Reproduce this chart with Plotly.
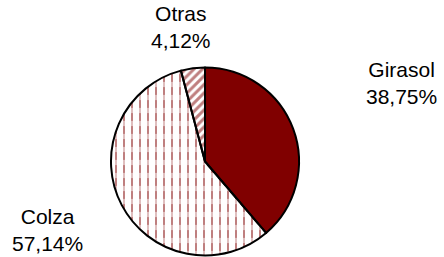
import plotly.graph_objects as go

labels = ["Girasol", "Colza", "Otras"]
values = [38.75, 57.14, 4.12]

W, H = 444, 257
RED = "#800000"
PAT_RED = "#800000"

# label positions (pixels, text block centre)
label_pos = {"Girasol": (401, 83), "Colza": (47, 230), "Otras": (181, 27)}

cx, cy, r = 205, 161.5, 94
dom_x = [(cx - r) / W, (cx + r) / W]
dom_y = [(H - cy - r) / H, (H - cy + r) / H]

common = dict(labels=labels, values=values, sort=False, direction="clockwise",
              rotation=0, textinfo="none", hoverinfo="label+percent",
              domain=dict(x=dom_x, y=dom_y), showlegend=False)

# base layer: fills and red patterns
base = go.Pie(**common,
              marker=dict(colors=[RED, "white", "white"],
                          line=dict(width=0),
                          pattern=dict(shape=["", "|", "/"],
                                       fgcolor=[RED, PAT_RED, PAT_RED],
                                       size=[8, 8, 6],
                                       solidity=[0.3, 0.25, 0.5],
                                       fillmode="overlay")))

# top layer: white horizontal cuts making the vertical lines dashed, plus outlines
top = go.Pie(**common,
             marker=dict(colors=["rgba(0,0,0,0)", "rgba(0,0,0,0)", "rgba(0,0,0,0)"],
                         line=dict(color="black", width=2),
                         pattern=dict(shape=["", "-", ""],
                                      fgcolor=["white", "white", "white"],
                                      bgcolor=["rgba(0,0,0,0)"] * 3,
                                      size=[13, 13, 13],
                                      solidity=[0.4, 0.4, 0.4],
                                      fillmode="overlay")))

fig = go.Figure([base, top])

annotations = []
for lab, val in zip(labels, values):
    px, py = label_pos[lab]
    txt = f"{lab}<br>{val:.2f}".replace(".", ",") + "%"
    annotations.append(dict(text=txt, x=px / W, y=1 - py / H, xref="paper", yref="paper",
                            xanchor="center", yanchor="middle", showarrow=False,
                            font=dict(family="Liberation Sans, Arial", size=21, color="black")))

fig.update_layout(width=W, height=H, margin=dict(l=0, r=0, t=0, b=0),
                  paper_bgcolor="white", plot_bgcolor="white",
                  annotations=annotations)

fig.write_html("out.html", config={"displayModeBar": False},
               post_script="document.body.style.margin='0';document.body.style.padding='0';")
